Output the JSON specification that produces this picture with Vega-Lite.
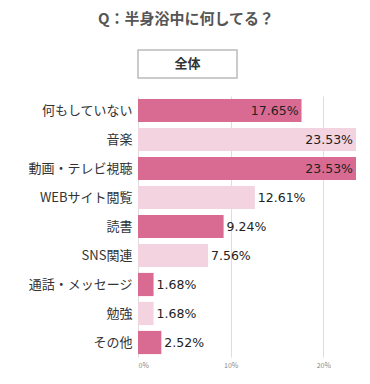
{
  "$schema": "https://vega.github.io/schema/vega-lite/v6.json",
  "padding": {"left": 27, "top": 12, "right": 10, "bottom": 8},
  "background": "white",
  "config": {"font": "Noto Sans CJK JP", "view": {"stroke": null}},
  "title": {"text": "Q：半身浴中に何してる？", "fontSize": 15, "fontWeight": "bold", "color": "#555555", "anchor": "middle", "frame": "bounds", "offset": 22, "dx": -6},
  "spacing": 17,
  "vconcat": [
    {
      "width": 99,
      "height": 28,
      "view": {"stroke": "#bbbbbb", "strokeWidth": 1.5},
      "data": {"values": [{"label": "全体"}]},
      "mark": {"type": "text", "fontWeight": "bold", "fontSize": 13, "color": "#333333"},
      "encoding": {"text": {"field": "label"}}
    },
    {
      "width": 218,
      "height": 261,
      "data": {"values": [
        {"rank": 1, "item": "何もしていない", "value": 0.1765},
        {"rank": 2, "item": "音楽", "value": 0.2353},
        {"rank": 3, "item": "動画・テレビ視聴", "value": 0.2353},
        {"rank": 4, "item": "WEBサイト閲覧", "value": 0.1261},
        {"rank": 5, "item": "読書", "value": 0.0924},
        {"rank": 6, "item": "SNS関連", "value": 0.0756},
        {"rank": 7, "item": "通話・メッセージ", "value": 0.0168},
        {"rank": 8, "item": "勉強", "value": 0.0168},
        {"rank": 9, "item": "その他", "value": 0.0252}
      ]},
      "encoding": {
        "y": {"field": "item", "type": "nominal", "sort": ["何もしていない", "音楽", "動画・テレビ視聴", "WEBサイト閲覧", "読書", "SNS関連", "通話・メッセージ", "勉強", "その他"], "title": null,
              "scale": {"paddingInner": 0.2, "paddingOuter": 0.1},
              "axis": {"domain": false, "ticks": false, "labelFontSize": 13, "labelColor": "#333333", "labelPadding": 6}},
        "x": {"field": "value", "type": "quantitative", "title": null,
              "scale": {"domain": [0, 0.2353], "nice": false},
              "axis": {"values": [0, 0.1, 0.2], "format": "%", "domain": false, "ticks": false, "labelFontSize": 7, "labelColor": "#888888", "gridColor": "#dddddd", "labelPadding": 4}}
      },
      "layer": [
        {
          "mark": {"type": "bar"},
          "encoding": {
            "color": {"condition": {"test": "datum.rank % 2 == 1", "value": "#d96b93"}, "value": "#f2d3df"}
          }
        },
        {
          "transform": [{"filter": "datum.value >= 0.15"}],
          "mark": {"type": "text", "align": "right", "dx": -3, "fontSize": 12.5, "font": "DejaVu Sans", "color": "#222222"},
          "encoding": {"text": {"field": "value", "type": "quantitative", "format": ".2%"}}
        },
        {
          "transform": [{"filter": "datum.value < 0.15"}],
          "mark": {"type": "text", "align": "left", "dx": 3, "fontSize": 12.5, "font": "DejaVu Sans", "color": "#222222"},
          "encoding": {"text": {"field": "value", "type": "quantitative", "format": ".2%"}}
        }
      ]
    }
  ]
}
